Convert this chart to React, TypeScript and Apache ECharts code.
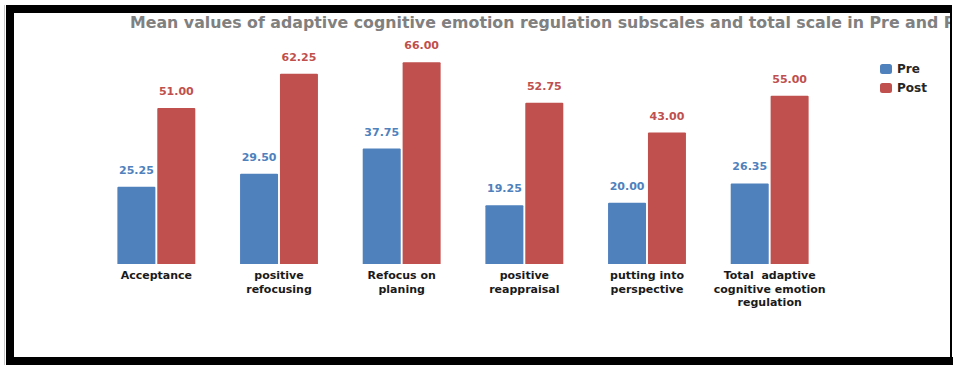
import React, { useEffect, useRef } from "react";
import * as echarts from "echarts";

// Adaptive cognitive emotion regulation: subscales and total, pre vs post
const categories = [
  "Acceptance",
  "positive\nrefocusing",
  "Refocus on\nplaning",
  "positive\nreappraisal",
  "putting into\nperspective",
  "Total  adaptive\ncognitive emotion\nregulation",
];
const preValues = [25.25, 29.5, 37.75, 19.25, 20.0, 26.35];
const postValues = [51.0, 62.25, 66.0, 52.75, 43.0, 55.0];
const seriesNames = ["Pre", "Post"];

const titleText =
  "Mean values of adaptive cognitive emotion regulation subscales and total scale in Pre and Post";

const BLUE = "#4f81bd";
const RED = "#c0504d";
const LABEL_FONT = "'DejaVu Sans', Verdana, sans-serif";

export default function App() {
  const ref = useRef<HTMLDivElement>(null);

  useEffect(() => {
    if (!ref.current) return;
    const chart = echarts.init(ref.current, undefined, { renderer: "svg" });

    const valueLabel = (color: string) => ({
      show: true,
      position: "top" as const,
      distance: 11,
      color,
      fontFamily: LABEL_FONT,
      fontWeight: "bold" as const,
      fontSize: 11,
      formatter: (p: any) => Number(p.value).toFixed(2),
    });

    chart.setOption({
      animation: false,
      backgroundColor: "#ffffff",
      title: {
        text: titleText,
        left: 130,
        top: 14,
        padding: 0,
        textStyle: {
          fontFamily: LABEL_FONT,
          fontWeight: "bold",
          fontSize: 15.8,
          color: "#808080",
        },
      },
      legend: {
        orient: "vertical",
        left: 875,
        top: 58,
        itemWidth: 12,
        itemHeight: 10,
        itemGap: 7,
        icon: "roundRect",
        data: seriesNames,
        textStyle: {
          fontFamily: LABEL_FONT,
          fontWeight: "bold",
          fontSize: 12,
          color: "#262626",
        },
      },
      grid: { left: 95, right: 122, top: 50, bottom: 101, containLabel: false },
      xAxis: {
        type: "category",
        data: categories,
        axisLine: { show: false },
        axisTick: { show: false },
        axisLabel: {
          margin: 5,
          interval: 0,
          color: "#1a1a1a",
          fontFamily: LABEL_FONT,
          fontWeight: "bold",
          fontSize: 11,
          lineHeight: 13.5,
        },
      },
      yAxis: {
        type: "value",
        min: 0,
        max: 70,
        show: false,
        splitLine: { show: false },
      },
      series: [
        {
          name: seriesNames[0],
          type: "bar",
          data: preValues,
          barWidth: 38,
          barGap: "5%",
          itemStyle: { color: BLUE, borderRadius: [1, 1, 0, 0] },
          label: valueLabel(BLUE),
        },
        {
          name: seriesNames[1],
          type: "bar",
          data: postValues,
          barWidth: 38,
          barGap: "5%",
          itemStyle: { color: RED, borderRadius: [1, 1, 0, 0] },
          label: valueLabel(RED),
        },
      ],
      graphic: [
        // black frame around the chart
        { type: "rect", shape: { x: 6, y: 5, width: 945, height: 8 }, style: { fill: "#000" }, z: 100 },
        { type: "rect", shape: { x: 6, y: 5, width: 8, height: 360 }, style: { fill: "#000" }, z: 100 },
        { type: "rect", shape: { x: 6, y: 357, width: 947, height: 8 }, style: { fill: "#000" }, z: 100 },
        { type: "rect", shape: { x: 950, y: 5, width: 2, height: 360 }, style: { fill: "#000" }, z: 100 },
        { type: "rect", shape: { x: 952, y: 0, width: 1, height: 357 }, style: { fill: "#ffffff" }, z: 101 },
        { type: "rect", shape: { x: 4, y: 5, width: 1, height: 360 }, style: { fill: "#c8c8c8" }, z: 100 },
      ],
    });

    return () => chart.dispose();
  }, []);

  return (
    <div
      ref={ref}
      style={{ position: "absolute", left: 0, top: 0, width: 953, height: 365 }}
    />
  );
}
